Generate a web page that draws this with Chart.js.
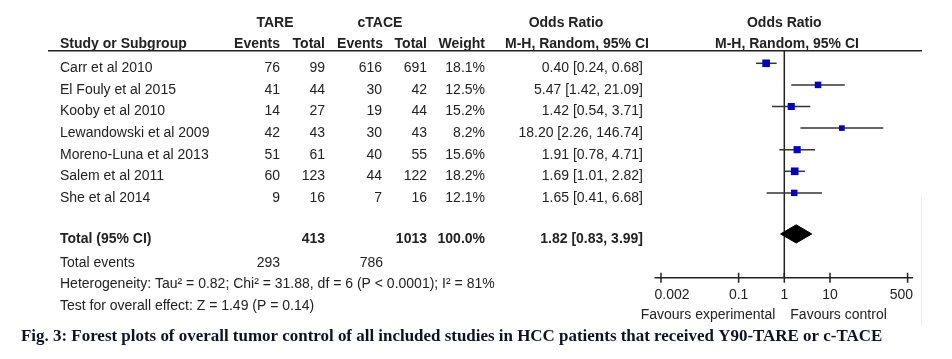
<!DOCTYPE html>
<html>
<head>
<meta charset="utf-8">
<script src="https://cdn.jsdelivr.net/npm/chart.js@4.4.0/dist/chart.umd.min.js"></script>
<style>
  body { margin: 0; background: #fff; }
</style>
</head>
<body>
<canvas id="Chart" width="952" height="359"></canvas>
<script>
  // study data
  const studies = ["Carr et al 2010", "El Fouly et al 2015", "Kooby et al 2010", "Lewandowski et al 2009",
    "Moreno-Luna et al 2013", "Salem et al 2011", "She et al 2014"];
  const tareEvents = [76, 41, 14, 42, 51, 60, 9];
  const tareTotal = [99, 44, 27, 43, 61, 123, 16];
  const taceEvents = [616, 30, 19, 30, 40, 44, 7];
  const taceTotal = [691, 42, 44, 43, 55, 122, 16];
  const weights = [18.1, 12.5, 15.2, 8.2, 15.6, 18.2, 12.1];
  const oddsRatio = [0.40, 5.47, 1.42, 18.20, 1.91, 1.69, 1.65];
  const ciLow = [0.24, 1.42, 0.54, 2.26, 0.78, 1.01, 0.41];
  const ciHigh = [0.68, 21.09, 3.71, 146.74, 4.71, 2.82, 6.68];

  const pooledOR = 1.82;
  const pooledLow = 0.83;
  const pooledHigh = 3.99;
  const totalTare = 413, totalTace = 1013, eventsTare = 293, eventsTace = 786;

  const tickValues = [0.002, 0.1, 1, 10, 500];
  const tickLabels = ["0.002", "0.1", "1", "10", "500"];

  const TOTAL_ROW = 7.9;
  const ink = "#222";
  const sans = '"Liberation Sans", Arial, sans-serif';

  const ctx = document.getElementById("Chart").getContext("2d");

  const ciSets = studies.map((s, i) => ({
    data: [{ x: ciLow[i], y: i }, { x: ciHigh[i], y: i }],
    showLine: true,
    borderColor: "#333",
    borderWidth: 1.5,
    pointRadius: 0,
    clip: false,
    order: 2,
  }));

  const datasets = [
    // null line at OR = 1
    {
      data: [{ x: 1, y: -0.583 }, { x: 1, y: 9.926 }],
      showLine: true, borderColor: "#222", borderWidth: 1.5, pointRadius: 0, clip: false, order: 3,
    },
    ...ciSets,
    {
      data: oddsRatio.map((v, i) => ({ x: v, y: i })),
      pointStyle: "rect",
      pointRadius: weights.map((w) => (4 + 0.2 * w) / Math.SQRT2),
      backgroundColor: "#0000cc",
      borderWidth: 0,
      clip: false,
      order: 1,
    },
    // pooled diamond
    {
      data: [
        { x: pooledLow, y: TOTAL_ROW }, { x: pooledOR, y: TOTAL_ROW - 0.42 },
        { x: pooledHigh, y: TOTAL_ROW }, { x: pooledOR, y: TOTAL_ROW + 0.42 },
        { x: pooledLow, y: TOTAL_ROW },
      ],
      showLine: true,
      fill: "shape",
      backgroundColor: "#000",
      borderColor: "#000",
      borderWidth: 1,
      pointRadius: 0,
      clip: false,
      order: 1,
    },
  ];

  const tablePlugin = {
    id: "table",
    afterDraw(chart) {
      const c = chart.ctx;
      const { x, y } = chart.scales;
      const rowY = (v) => y.getPixelForValue(v) + 5;
      const txt = (s, px, py, align, bold) => {
        c.font = (bold ? "bold " : "") + "14px " + sans;
        c.textAlign = align;
        c.fillText(s, px, py);
      };
      c.save();
      c.fillStyle = ink;
      c.textBaseline = "middle";

      // headers
      txt("TARE", 275, 23, "center", true);
      txt("cTACE", 380, 23, "center", true);
      txt("Odds Ratio", 566, 23, "center", true);
      txt("Odds Ratio", x.getPixelForValue(1), 23, "center", true);
      txt("Study or Subgroup", 60, 44, "left", true);
      txt("Events", 280, 44, "right", true);
      txt("Total", 325, 44, "right", true);
      txt("Events", 383, 44, "right", true);
      txt("Total", 427, 44, "right", true);
      txt("Weight", 485, 44, "right", true);
      txt("M-H, Random, 95% CI", 505, 44, "left", true);
      txt("M-H, Random, 95% CI", 715, 44, "left", true);

      c.strokeStyle = ink;
      c.lineWidth = 1.5;
      c.beginPath();
      c.moveTo(48, 50.7);
      c.lineTo(922, 50.7);
      c.stroke();

      // study rows
      studies.forEach((s, i) => {
        const py = rowY(i);
        txt(s, 60, py, "left");
        txt(String(tareEvents[i]), 280, py, "right");
        txt(String(tareTotal[i]), 325, py, "right");
        txt(String(taceEvents[i]), 382, py, "right");
        txt(String(taceTotal[i]), 427, py, "right");
        txt(weights[i].toFixed(1) + "%", 485, py, "right");
        txt(`${oddsRatio[i].toFixed(2)} [${ciLow[i].toFixed(2)}, ${ciHigh[i].toFixed(2)}]`, 643, py, "right");
      });

      // totals
      let py = rowY(TOTAL_ROW);
      txt("Total (95% CI)", 60, py, "left", true);
      txt(String(totalTare), 325, py, "right", true);
      txt(String(totalTace), 427, py, "right", true);
      txt("100.0%", 485, py, "right", true);
      txt(`${pooledOR.toFixed(2)} [${pooledLow.toFixed(2)}, ${pooledHigh.toFixed(2)}]`, 643, py, "right", true);
      py = rowY(9);
      txt("Total events", 60, py, "left");
      txt(String(eventsTare), 280, py, "right");
      txt(String(eventsTace), 383, py, "right");
      txt("Heterogeneity: Tau\u00b2 = 0.82; Chi\u00b2 = 31.88, df = 6 (P < 0.0001); I\u00b2 = 81%", 60, rowY(10), "left");
      txt("Test for overall effect: Z = 1.49 (P = 0.14)", 60, rowY(11), "left");

      // x axis
      const ay = chart.chartArea.bottom;
      const a0 = x.getPixelForValue(tickValues[0]) - 6.5;
      const a1 = x.getPixelForValue(tickValues[tickValues.length - 1]) + 5.5;
      c.beginPath();
      c.moveTo(a0, ay);
      c.lineTo(a1, ay);
      tickValues.forEach((v) => {
        const px = x.getPixelForValue(v);
        c.moveTo(px, ay - 5);
        c.lineTo(px, ay + 5);
      });
      c.stroke();
      tickValues.forEach((v, i) => {
        let align = "center", px = x.getPixelForValue(v);
        if (i === 0) { align = "left"; px = a0; }
        if (i === tickValues.length - 1) { align = "right"; px = a1; }
        txt(tickLabels[i], px, 295, align);
      });
      const one = x.getPixelForValue(1);
      txt("Favours experimental", one - 9, 315, "right");
      txt("Favours control", one + 6, 315, "left");

      // faint frame edge
      c.strokeStyle = "#ececec";
      c.lineWidth = 1;
      c.beginPath();
      c.moveTo(921.5, 197);
      c.lineTo(921.5, 325);
      c.stroke();

      // caption
      const caption = "Fig. 3: Forest plots of overall tumor control of all included studies in HCC patients that received Y90-TARE or c-TACE";
      c.font = 'bold 100px "Liberation Serif", "Times New Roman", serif';
      const size = (862 / c.measureText(caption).width) * 100;
      c.font = `bold ${size.toFixed(2)}px "Liberation Serif", "Times New Roman", serif`;
      c.fillStyle = "#10102a";
      c.textAlign = "left";
      c.fillText(caption, 21, 337);
      c.restore();
    },
  };

  new Chart(ctx, {
    type: "scatter",
    data: { datasets: datasets },
    options: {
      responsive: false,
      animation: false,
      layout: { padding: { left: 661, right: 44.4, top: 50.7, bottom: 81.3 } },
      plugins: { legend: { display: false }, tooltip: { enabled: false } },
      scales: {
        x: { type: "logarithmic", min: 0.002, max: 500, display: false },
        y: { type: "linear", min: -0.583, max: 9.926, reverse: true, display: false },
      },
    },
    plugins: [tablePlugin],
  });
</script>
</body>
</html>
